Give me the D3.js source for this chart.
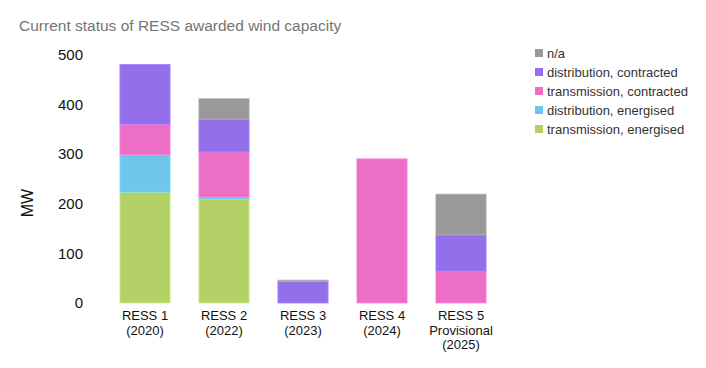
<!DOCTYPE html>
<html>
<head>
<meta charset="utf-8">
<script src="https://cdn.jsdelivr.net/npm/d3@7"></script>
<style>
  html, body { margin: 0; padding: 0; background: #fff; }
  svg { display: block; font-family: "Liberation Sans", Arial, Helvetica, sans-serif; }
</style>
</head>
<body>
<svg id="chart" width="706" height="368"></svg>
<script>
const categories = [["RESS 1", "(2020)"], ["RESS 2", "(2022)"], ["RESS 3", "(2023)"], ["RESS 4", "(2024)"], ["RESS 5", "Provisional", "(2025)"]];
const seriesNames = ["transmission, energised", "distribution, energised", "transmission, contracted", "distribution, contracted", "n/a"];
const transmissionEnergised = [223, 208, 0, 0, 0];
const distributionEnergised = [75, 5, 0, 0, 0];
const transmissionContracted = [62, 91, 0, 290, 64];
const distributionContracted = [120, 66, 43, 0, 73];
const naValues = [0, 41, 3, 0, 82];
const yTicks = [0, 100, 200, 300, 400, 500];
const colors = ["#b3d166", "#6ec6ea", "#ec6fc6", "#9370ea", "#999999"];

const seriesValues = [transmissionEnergised, distributionEnergised, transmissionContracted, distributionContracted, naValues];
const table = categories.map((c, i) => {
  const row = { key: i };
  seriesNames.forEach((s, j) => row[s] = seriesValues[j][i]);
  return row;
});

const svg = d3.select("#chart");

svg.append("text").attr("x", 19).attr("y", 31)
  .attr("fill", "#757575").attr("font-size", 15.5)
  .text("Current status of RESS awarded wind capacity");

const x = d3.scaleBand().domain(categories.map((c, i) => i))
  .range([105.5, 500.5]).paddingInner(0.355).paddingOuter(0.1775);
const y = d3.scaleLinear().domain([0, 500]).range([303, 54.5]);

const stack = d3.stack().keys(seriesNames)(table);

svg.append("g").selectAll("g").data(stack).join("g")
  .attr("fill", (d, i) => colors[i])
  .attr("stroke", (d, i) => d3.color(colors[i]).brighter(0.4))
  .attr("stroke-width", 0.8)
  .selectAll("rect").data(d => d.filter(p => p[1] - p[0] > 0)).join("rect")
  .attr("x", d => x(d.data.key) + 0.4)
  .attr("width", x.bandwidth() - 0.8)
  .attr("y", d => y(d[1]))
  .attr("height", d => y(d[0]) - y(d[1]));

// y axis
const yAxis = d3.axisLeft(y).tickValues(yTicks).tickSize(0).tickPadding(0);
const gy = svg.append("g").attr("transform", "translate(83,0)").call(yAxis);
gy.select(".domain").remove();
gy.selectAll("text").attr("font-size", 15).attr("fill", "#111")
  .attr("font-family", "'Liberation Sans', Arial, sans-serif");

svg.append("text").attr("transform", "translate(33,203) rotate(-90)")
  .attr("text-anchor", "middle").attr("font-size", 16).attr("fill", "#111").text("MW");

// x axis labels
const xAxis = d3.axisBottom(x).tickSize(0).tickFormat("");
const gx = svg.append("g").attr("transform", "translate(0,303)").call(xAxis);
gx.select(".domain").remove();
gx.selectAll(".tick").each(function(d) {
  const t = d3.select(this).append("text")
    .attr("text-anchor", "middle").attr("fill", "#111").attr("font-size", 13)
    .attr("font-family", "'Liberation Sans', Arial, sans-serif");
  categories[d].forEach((line, k) => {
    t.append("tspan").attr("x", 0).attr("y", 17 + k * 14.5).text(line);
  });
});

// legend
const legendOrder = [4, 3, 2, 1, 0];
const lg = svg.append("g");
legendOrder.forEach((si, r) => {
  const g = lg.append("g").attr("transform", `translate(535,${53 + r * 19})`);
  g.append("rect").attr("x", 0).attr("y", -4).attr("width", 8).attr("height", 8).attr("fill", colors[si]);
  g.append("text").attr("x", 12).attr("y", 4.5).attr("font-size", 13).attr("fill", "#333").text(seriesNames[si]);
});
</script>
</body>
</html>
